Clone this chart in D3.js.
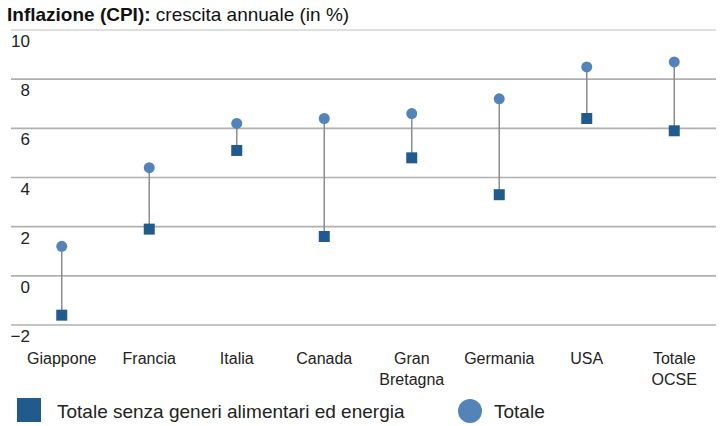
<!DOCTYPE html>
<html>
<head>
<meta charset="utf-8">
<script src="https://cdn.jsdelivr.net/npm/d3@7"></script>
<style>
  body { margin: 0; background: #fff; }
  svg { font-family: "Liberation Sans", Arial, sans-serif; }
</style>
</head>
<body>
<svg id="chart" width="724" height="426"></svg>
<script>
// Data
var categories = ["Giappone", "Francia", "Italia", "Canada", "Gran\nBretagna", "Germania", "USA", "Totale\nOCSE"];
var totale = [1.2, 4.4, 6.2, 6.4, 6.6, 7.2, 8.5, 8.7];
var senzaAlimEnergia = [-1.6, 1.9, 5.1, 1.6, 4.8, 3.3, 6.4, 5.9];
var yTicks = [-2, 0, 2, 4, 6, 8, 10];

var squareColor = "#215b8e",
    circleColor = "#5483b9";

var svg = d3.select("#chart");

var x = d3.scaleBand()
    .domain(categories)
    .range([18, 718]);

var y = d3.scaleLinear()
    .domain([-2, 10])
    .range([325, 30]);

// title
var title = svg.append("text")
    .attr("x", 7)
    .attr("y", 21)
    .style("font-size", "19px")
    .style("fill", "#111");
title.append("tspan").style("font-weight", "bold").text("Inflazione (CPI):");
title.append("tspan").text(" crescita annuale (in %)");

// gridlines + tick labels
var grid = svg.append("g").attr("class", "grid");
grid.selectAll("line")
    .data(yTicks)
    .enter().append("line")
    .attr("x1", 11)
    .attr("x2", 716)
    .attr("y1", function(d) { return y(d); })
    .attr("y2", function(d) { return y(d); })
    .attr("stroke", function(d) { return d === 10 ? "#d4d4d4" : "#b0b0b0"; })
    .attr("stroke-width", 1.6);

grid.selectAll("text")
    .data(yTicks)
    .enter().append("text")
    .attr("x", 30)
    .attr("y", function(d) { return y(d) + 17; })
    .attr("text-anchor", "end")
    .style("font-size", "17px")
    .style("fill", "#222")
    .text(function(d) { return d < 0 ? "\u2212" + Math.abs(d) : d; });

// category labels
var cx = function(d) { return x(d) + x.bandwidth() / 2; };
var catLabels = svg.append("g").selectAll("text")
    .data(categories)
    .enter().append("text")
    .attr("x", cx)
    .attr("y", 364)
    .attr("text-anchor", "middle")
    .style("font-size", "16px")
    .style("fill", "#222");
catLabels.selectAll("tspan")
    .data(function(d) { return d.split("\n").map(function(t) { return {t: t, c: d}; }); })
    .enter().append("tspan")
    .attr("x", function(d) { return cx(d.c); })
    .attr("dy", function(d, i) { return i === 0 ? 0 : 21; })
    .text(function(d) { return d.t; });

// connectors
var pts = categories.map(function(c, i) { return {c: c, tot: totale[i], core: senzaAlimEnergia[i]}; });

svg.append("g").selectAll("line")
    .data(pts)
    .enter().append("line")
    .attr("x1", function(d) { return cx(d.c); })
    .attr("x2", function(d) { return cx(d.c); })
    .attr("y1", function(d) { return y(d.tot); })
    .attr("y2", function(d) { return y(d.core); })
    .attr("stroke", "#8c8c8c")
    .attr("stroke-width", 1.5);

var sq = 11;
svg.append("g").selectAll("rect")
    .data(pts)
    .enter().append("rect")
    .attr("x", function(d) { return cx(d.c) - sq / 2; })
    .attr("y", function(d) { return y(d.core) - sq / 2; })
    .attr("width", sq)
    .attr("height", sq)
    .attr("fill", squareColor);

svg.append("g").selectAll("circle")
    .data(pts)
    .enter().append("circle")
    .attr("cx", function(d) { return cx(d.c); })
    .attr("cy", function(d) { return y(d.tot); })
    .attr("r", 5.5)
    .attr("fill", circleColor);

// legend
var legend = svg.append("g");
legend.append("rect")
    .attr("x", 17).attr("y", 398)
    .attr("width", 24).attr("height", 24)
    .attr("fill", squareColor);
legend.append("text")
    .attr("x", 57).attr("y", 418)
    .style("font-size", "19px")
    .style("fill", "#222")
    .text("Totale senza generi alimentari ed energia");
legend.append("circle")
    .attr("cx", 470).attr("cy", 411)
    .attr("r", 12)
    .attr("fill", circleColor);
legend.append("text")
    .attr("x", 494).attr("y", 418)
    .style("font-size", "19px")
    .style("fill", "#222")
    .text("Totale");
</script>
</body>
</html>
